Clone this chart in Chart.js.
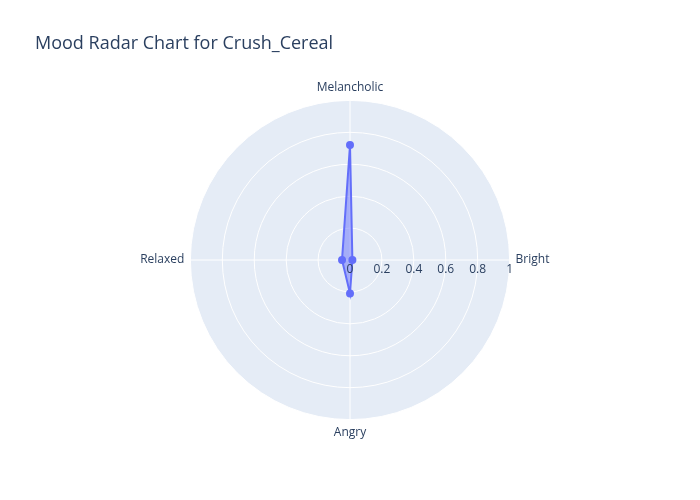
<!DOCTYPE html>
<html>
<head>
<script src="https://cdn.jsdelivr.net/npm/chart.js@4"></script>
<style>body{margin:0;background:#fff}#wrap{width:700px;height:500px}</style>
</head>
<body>
<div id="wrap"><canvas id="c"></canvas></div>
<script>
const moods = ['Melancholic', 'Bright', 'Angry', 'Relaxed'];
const moodValues = [0.72, 0.015, 0.21, 0.05];
const tickValues = [0, 0.2, 0.4, 0.6, 0.8, 1];
const titleText = 'Mood Radar Chart for Crush_Cereal';

const font = '"Open Sans", "DejaVu Sans", sans-serif';

// grey disk behind the grid, plotly style
const diskPlugin = {
    id: 'disk',
    beforeDatasetsDraw(chart) {},
    beforeDraw(chart) {
        const r = chart.scales.r;
        const ctx = chart.ctx;
        ctx.save();
        ctx.fillStyle = '#E5ECF6';
        ctx.beginPath();
        ctx.arc(r.xCenter, r.yCenter, r.drawingArea, 0, Math.PI * 2);
        ctx.fill();
        ctx.restore();
    },
    afterDraw(chart) {
        const r = chart.scales.r;
        const ctx = chart.ctx;
        ctx.save();
        ctx.fillStyle = '#2a3f5f';
        ctx.font = '12px ' + font;
        ctx.textAlign = 'center';
        ctx.textBaseline = 'top';
        tickValues.forEach(v => {
            const d = r.getDistanceFromCenterForValue(v);
            ctx.fillText(String(v), r.xCenter + d, r.yCenter + 4);
        });
        ctx.font = '18px ' + font;
        ctx.textAlign = 'left';
        ctx.textBaseline = 'middle';
        ctx.fillText(titleText, 35, 44);
        ctx.restore();
    }
};

new Chart(document.getElementById('c'), {
    type: 'radar',
    data: {
        labels: moods,
        datasets: [{
            data: moodValues,
            borderColor: '#636efa',
            backgroundColor: 'rgba(99,110,250,0.5)',
            borderWidth: 2,
            pointRadius: 3,
            pointBackgroundColor: '#636efa',
            pointBorderColor: '#636efa',
            fill: true
        }]
    },
    options: {
        responsive: true,
        maintainAspectRatio: false,
        animation: false,
        layout: { padding: { top: 80, bottom: 60 } },
        plugins: { legend: { display: false }, title: { display: false }, tooltip: { enabled: false } },
        scales: {
            r: {
                min: 0,
                max: 1,
                ticks: { display: false, stepSize: 0.2 },
                grid: { circular: true, color: '#ffffff', lineWidth: 1 },
                angleLines: { color: '#ffffff', lineWidth: 1 },
                pointLabels: { color: '#2a3f5f', font: { size: 12, family: font }, padding: 6 }
            }
        }
    },
    plugins: [diskPlugin]
});
</script>
</body>
</html>
